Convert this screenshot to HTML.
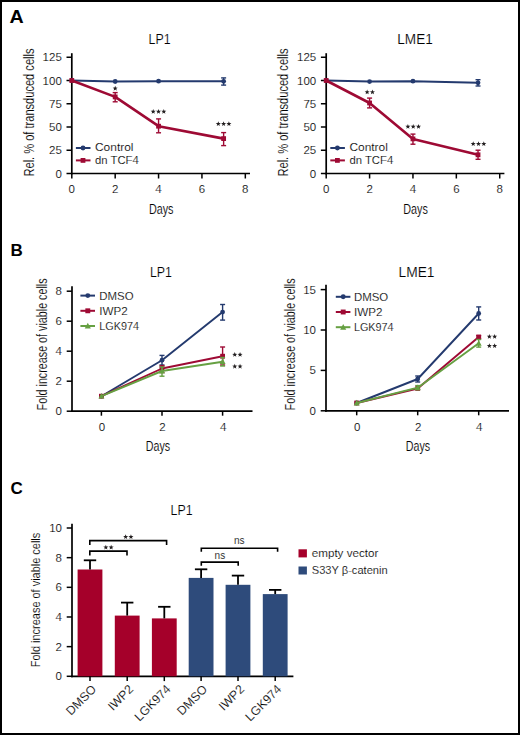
<!DOCTYPE html><html><head><meta charset="utf-8"><style>html,body{margin:0;padding:0;background:#fff;overflow:hidden}svg{display:block}text{font-family:"Liberation Sans",sans-serif;stroke:#fff;stroke-width:0.15px}</style></head><body>
<svg width="520" height="735" viewBox="0 0 520 735">
<rect x="0" y="0" width="520" height="735" fill="#fff"/>
<rect x="1" y="1" width="518" height="733" fill="none" stroke="#000" stroke-width="2"/>
<text x="9.40" y="22.60" font-size="17.5" textLength="14.20" lengthAdjust="spacingAndGlyphs" font-weight="bold" fill="#000" style="stroke:none">A</text>
<text x="10.60" y="256.00" font-size="17" font-weight="bold" fill="#000" style="stroke:none">B</text>
<text x="10.40" y="494.20" font-size="17" font-weight="bold" fill="#000" style="stroke:none">C</text>
<line x1="71.80" y1="53.20" x2="71.80" y2="174.35" stroke="#000" stroke-width="1.7" stroke-linecap="butt"/>
<line x1="70.95" y1="173.50" x2="250.00" y2="173.50" stroke="#000" stroke-width="1.7" stroke-linecap="butt"/>
<line x1="66.50" y1="173.50" x2="71.80" y2="173.50" stroke="#000" stroke-width="1.5" stroke-linecap="butt"/>
<text x="61.80" y="177.50" font-size="11.5" text-anchor="end">0</text>
<line x1="66.50" y1="150.25" x2="71.80" y2="150.25" stroke="#000" stroke-width="1.5" stroke-linecap="butt"/>
<text x="61.80" y="154.25" font-size="11.5" text-anchor="end">25</text>
<line x1="66.50" y1="127.00" x2="71.80" y2="127.00" stroke="#000" stroke-width="1.5" stroke-linecap="butt"/>
<text x="61.80" y="131.00" font-size="11.5" text-anchor="end">50</text>
<line x1="66.50" y1="103.75" x2="71.80" y2="103.75" stroke="#000" stroke-width="1.5" stroke-linecap="butt"/>
<text x="61.80" y="107.75" font-size="11.5" text-anchor="end">75</text>
<line x1="66.50" y1="80.50" x2="71.80" y2="80.50" stroke="#000" stroke-width="1.5" stroke-linecap="butt"/>
<text x="61.80" y="84.50" font-size="11.5" text-anchor="end">100</text>
<line x1="66.50" y1="57.25" x2="71.80" y2="57.25" stroke="#000" stroke-width="1.5" stroke-linecap="butt"/>
<text x="61.80" y="61.25" font-size="11.5" text-anchor="end">125</text>
<line x1="71.80" y1="173.50" x2="71.80" y2="178.50" stroke="#000" stroke-width="1.5" stroke-linecap="butt"/>
<text x="71.80" y="193.00" font-size="11.5" text-anchor="middle">0</text>
<line x1="115.18" y1="173.50" x2="115.18" y2="178.50" stroke="#000" stroke-width="1.5" stroke-linecap="butt"/>
<text x="115.18" y="193.00" font-size="11.5" text-anchor="middle">2</text>
<line x1="158.56" y1="173.50" x2="158.56" y2="178.50" stroke="#000" stroke-width="1.5" stroke-linecap="butt"/>
<text x="158.56" y="193.00" font-size="11.5" text-anchor="middle">4</text>
<line x1="201.94" y1="173.50" x2="201.94" y2="178.50" stroke="#000" stroke-width="1.5" stroke-linecap="butt"/>
<text x="201.94" y="193.00" font-size="11.5" text-anchor="middle">6</text>
<line x1="245.32" y1="173.50" x2="245.32" y2="178.50" stroke="#000" stroke-width="1.5" stroke-linecap="butt"/>
<text x="245.32" y="193.00" font-size="11.5" text-anchor="middle">8</text>
<text x="161.20" y="213.60" font-size="15.5" text-anchor="middle" textLength="24.60" lengthAdjust="spacingAndGlyphs">Days</text>
<text x="148.60" y="44.20" font-size="15" textLength="22.00" lengthAdjust="spacingAndGlyphs">LP1</text>
<text x="0" y="0" font-size="14" text-anchor="middle" textLength="128.00" lengthAdjust="spacingAndGlyphs" transform="translate(33.70,112.50) rotate(-90)">Rel. % of transduced cells</text>
<line x1="75.90" y1="148.00" x2="90.50" y2="148.00" stroke="#243a6e" stroke-width="2.0" stroke-linecap="butt"/>
<circle cx="83.00" cy="148.00" r="2.45" fill="#243a6e"/>
<line x1="75.90" y1="160.40" x2="90.50" y2="160.40" stroke="#9e0a34" stroke-width="2.0" stroke-linecap="butt"/>
<rect x="80.60" y="158.00" width="4.80" height="4.80" fill="#9e0a34"/>
<text x="95.00" y="151.10" font-size="11" textLength="38.50" lengthAdjust="spacingAndGlyphs">Control</text>
<text x="95.00" y="163.60" font-size="11" textLength="43.80" lengthAdjust="spacingAndGlyphs">dn TCF4</text>
<polyline points="71.80,80.50 115.18,81.50 158.56,81.20 223.63,81.30" fill="none" stroke="#243a6e" stroke-width="2.0" stroke-linejoin="round"/>
<circle cx="71.80" cy="80.50" r="2.40" fill="#243a6e"/>
<circle cx="115.18" cy="81.50" r="2.40" fill="#243a6e"/>
<circle cx="158.56" cy="81.20" r="2.40" fill="#243a6e"/>
<line x1="223.63" y1="77.90" x2="223.63" y2="85.10" stroke="#243a6e" stroke-width="1.4" stroke-linecap="butt"/>
<line x1="221.13" y1="77.90" x2="226.13" y2="77.90" stroke="#243a6e" stroke-width="1.4" stroke-linecap="butt"/>
<line x1="221.13" y1="85.10" x2="226.13" y2="85.10" stroke="#243a6e" stroke-width="1.4" stroke-linecap="butt"/>
<circle cx="223.63" cy="81.30" r="2.40" fill="#243a6e"/>
<polyline points="71.80,80.50 115.18,96.90 158.56,126.20 223.63,138.60" fill="none" stroke="#9e0a34" stroke-width="2.6" stroke-linejoin="round"/>
<rect x="69.40" y="78.10" width="4.80" height="4.80" fill="#9e0a34"/>
<line x1="115.18" y1="92.60" x2="115.18" y2="101.80" stroke="#9e0a34" stroke-width="1.4" stroke-linecap="butt"/>
<line x1="112.68" y1="92.60" x2="117.68" y2="92.60" stroke="#9e0a34" stroke-width="1.4" stroke-linecap="butt"/>
<line x1="112.68" y1="101.80" x2="117.68" y2="101.80" stroke="#9e0a34" stroke-width="1.4" stroke-linecap="butt"/>
<rect x="112.78" y="94.50" width="4.80" height="4.80" fill="#9e0a34"/>
<line x1="158.56" y1="118.90" x2="158.56" y2="132.80" stroke="#9e0a34" stroke-width="1.4" stroke-linecap="butt"/>
<line x1="156.06" y1="118.90" x2="161.06" y2="118.90" stroke="#9e0a34" stroke-width="1.4" stroke-linecap="butt"/>
<line x1="156.06" y1="132.80" x2="161.06" y2="132.80" stroke="#9e0a34" stroke-width="1.4" stroke-linecap="butt"/>
<rect x="156.16" y="123.80" width="4.80" height="4.80" fill="#9e0a34"/>
<line x1="223.63" y1="132.60" x2="223.63" y2="145.60" stroke="#9e0a34" stroke-width="1.4" stroke-linecap="butt"/>
<line x1="221.13" y1="132.60" x2="226.13" y2="132.60" stroke="#9e0a34" stroke-width="1.4" stroke-linecap="butt"/>
<line x1="221.13" y1="145.60" x2="226.13" y2="145.60" stroke="#9e0a34" stroke-width="1.4" stroke-linecap="butt"/>
<rect x="221.23" y="136.20" width="4.80" height="4.80" fill="#9e0a34"/>
<polygon points="115.20,85.85 115.85,87.60 117.72,87.68 116.26,88.84 116.76,90.64 115.20,89.61 113.64,90.64 114.14,88.84 112.68,87.68 114.55,87.60" fill="#231f20"/>
<polygon points="153.20,108.95 153.85,110.70 155.72,110.78 154.26,111.94 154.76,113.74 153.20,112.71 151.64,113.74 152.14,111.94 150.68,110.78 152.55,110.70" fill="#231f20"/>
<polygon points="158.50,108.95 159.15,110.70 161.02,110.78 159.56,111.94 160.06,113.74 158.50,112.71 156.94,113.74 157.44,111.94 155.98,110.78 157.85,110.70" fill="#231f20"/>
<polygon points="163.80,108.95 164.45,110.70 166.32,110.78 164.86,111.94 165.36,113.74 163.80,112.71 162.24,113.74 162.74,111.94 161.28,110.78 163.15,110.70" fill="#231f20"/>
<polygon points="218.30,121.15 218.95,122.90 220.82,122.98 219.36,124.14 219.86,125.94 218.30,124.91 216.74,125.94 217.24,124.14 215.78,122.98 217.65,122.90" fill="#231f20"/>
<polygon points="223.60,121.15 224.25,122.90 226.12,122.98 224.66,124.14 225.16,125.94 223.60,124.91 222.04,125.94 222.54,124.14 221.08,122.98 222.95,122.90" fill="#231f20"/>
<polygon points="228.90,121.15 229.55,122.90 231.42,122.98 229.96,124.14 230.46,125.94 228.90,124.91 227.34,125.94 227.84,124.14 226.38,122.98 228.25,122.90" fill="#231f20"/>
<line x1="326.20" y1="53.20" x2="326.20" y2="174.35" stroke="#000" stroke-width="1.7" stroke-linecap="butt"/>
<line x1="325.35" y1="173.50" x2="504.40" y2="173.50" stroke="#000" stroke-width="1.7" stroke-linecap="butt"/>
<line x1="320.90" y1="173.50" x2="326.20" y2="173.50" stroke="#000" stroke-width="1.5" stroke-linecap="butt"/>
<text x="316.20" y="177.50" font-size="11.5" text-anchor="end">0</text>
<line x1="320.90" y1="150.25" x2="326.20" y2="150.25" stroke="#000" stroke-width="1.5" stroke-linecap="butt"/>
<text x="316.20" y="154.25" font-size="11.5" text-anchor="end">25</text>
<line x1="320.90" y1="127.00" x2="326.20" y2="127.00" stroke="#000" stroke-width="1.5" stroke-linecap="butt"/>
<text x="316.20" y="131.00" font-size="11.5" text-anchor="end">50</text>
<line x1="320.90" y1="103.75" x2="326.20" y2="103.75" stroke="#000" stroke-width="1.5" stroke-linecap="butt"/>
<text x="316.20" y="107.75" font-size="11.5" text-anchor="end">75</text>
<line x1="320.90" y1="80.50" x2="326.20" y2="80.50" stroke="#000" stroke-width="1.5" stroke-linecap="butt"/>
<text x="316.20" y="84.50" font-size="11.5" text-anchor="end">100</text>
<line x1="320.90" y1="57.25" x2="326.20" y2="57.25" stroke="#000" stroke-width="1.5" stroke-linecap="butt"/>
<text x="316.20" y="61.25" font-size="11.5" text-anchor="end">125</text>
<line x1="326.20" y1="173.50" x2="326.20" y2="178.50" stroke="#000" stroke-width="1.5" stroke-linecap="butt"/>
<text x="326.20" y="193.00" font-size="11.5" text-anchor="middle">0</text>
<line x1="369.58" y1="173.50" x2="369.58" y2="178.50" stroke="#000" stroke-width="1.5" stroke-linecap="butt"/>
<text x="369.58" y="193.00" font-size="11.5" text-anchor="middle">2</text>
<line x1="412.96" y1="173.50" x2="412.96" y2="178.50" stroke="#000" stroke-width="1.5" stroke-linecap="butt"/>
<text x="412.96" y="193.00" font-size="11.5" text-anchor="middle">4</text>
<line x1="456.34" y1="173.50" x2="456.34" y2="178.50" stroke="#000" stroke-width="1.5" stroke-linecap="butt"/>
<text x="456.34" y="193.00" font-size="11.5" text-anchor="middle">6</text>
<line x1="499.72" y1="173.50" x2="499.72" y2="178.50" stroke="#000" stroke-width="1.5" stroke-linecap="butt"/>
<text x="499.72" y="193.00" font-size="11.5" text-anchor="middle">8</text>
<text x="415.60" y="213.60" font-size="15.5" text-anchor="middle" textLength="24.60" lengthAdjust="spacingAndGlyphs">Days</text>
<text x="397.30" y="44.20" font-size="15" textLength="35.50" lengthAdjust="spacingAndGlyphs">LME1</text>
<text x="0" y="0" font-size="14" text-anchor="middle" textLength="128.00" lengthAdjust="spacingAndGlyphs" transform="translate(288.10,112.50) rotate(-90)">Rel. % of transduced cells</text>
<line x1="330.30" y1="148.00" x2="344.90" y2="148.00" stroke="#243a6e" stroke-width="2.0" stroke-linecap="butt"/>
<circle cx="337.40" cy="148.00" r="2.45" fill="#243a6e"/>
<line x1="330.30" y1="160.40" x2="344.90" y2="160.40" stroke="#9e0a34" stroke-width="2.0" stroke-linecap="butt"/>
<rect x="335.00" y="158.00" width="4.80" height="4.80" fill="#9e0a34"/>
<text x="349.40" y="151.10" font-size="11" textLength="38.50" lengthAdjust="spacingAndGlyphs">Control</text>
<text x="349.40" y="163.60" font-size="11" textLength="43.80" lengthAdjust="spacingAndGlyphs">dn TCF4</text>
<polyline points="326.20,80.50 369.58,81.60 412.96,81.20 478.03,82.80" fill="none" stroke="#243a6e" stroke-width="2.0" stroke-linejoin="round"/>
<circle cx="326.20" cy="80.50" r="2.40" fill="#243a6e"/>
<circle cx="369.58" cy="81.60" r="2.40" fill="#243a6e"/>
<circle cx="412.96" cy="81.20" r="2.40" fill="#243a6e"/>
<line x1="478.03" y1="79.70" x2="478.03" y2="86.00" stroke="#243a6e" stroke-width="1.4" stroke-linecap="butt"/>
<line x1="475.53" y1="79.70" x2="480.53" y2="79.70" stroke="#243a6e" stroke-width="1.4" stroke-linecap="butt"/>
<line x1="475.53" y1="86.00" x2="480.53" y2="86.00" stroke="#243a6e" stroke-width="1.4" stroke-linecap="butt"/>
<circle cx="478.03" cy="82.80" r="2.40" fill="#243a6e"/>
<polyline points="326.20,80.50 369.58,103.00 412.96,138.90 478.03,154.80" fill="none" stroke="#9e0a34" stroke-width="2.6" stroke-linejoin="round"/>
<rect x="323.80" y="78.10" width="4.80" height="4.80" fill="#9e0a34"/>
<line x1="369.58" y1="98.10" x2="369.58" y2="107.90" stroke="#9e0a34" stroke-width="1.4" stroke-linecap="butt"/>
<line x1="367.08" y1="98.10" x2="372.08" y2="98.10" stroke="#9e0a34" stroke-width="1.4" stroke-linecap="butt"/>
<line x1="367.08" y1="107.90" x2="372.08" y2="107.90" stroke="#9e0a34" stroke-width="1.4" stroke-linecap="butt"/>
<rect x="367.18" y="100.60" width="4.80" height="4.80" fill="#9e0a34"/>
<line x1="412.96" y1="134.10" x2="412.96" y2="144.20" stroke="#9e0a34" stroke-width="1.4" stroke-linecap="butt"/>
<line x1="410.46" y1="134.10" x2="415.46" y2="134.10" stroke="#9e0a34" stroke-width="1.4" stroke-linecap="butt"/>
<line x1="410.46" y1="144.20" x2="415.46" y2="144.20" stroke="#9e0a34" stroke-width="1.4" stroke-linecap="butt"/>
<rect x="410.56" y="136.50" width="4.80" height="4.80" fill="#9e0a34"/>
<line x1="478.03" y1="150.20" x2="478.03" y2="159.30" stroke="#9e0a34" stroke-width="1.4" stroke-linecap="butt"/>
<line x1="475.53" y1="150.20" x2="480.53" y2="150.20" stroke="#9e0a34" stroke-width="1.4" stroke-linecap="butt"/>
<line x1="475.53" y1="159.30" x2="480.53" y2="159.30" stroke="#9e0a34" stroke-width="1.4" stroke-linecap="butt"/>
<rect x="475.63" y="152.40" width="4.80" height="4.80" fill="#9e0a34"/>
<polygon points="367.15,89.55 367.80,91.30 369.67,91.38 368.21,92.54 368.71,94.34 367.15,93.31 365.59,94.34 366.09,92.54 364.63,91.38 366.50,91.30" fill="#231f20"/>
<polygon points="372.45,89.55 373.10,91.30 374.97,91.38 373.51,92.54 374.01,94.34 372.45,93.31 370.89,94.34 371.39,92.54 369.93,91.38 371.80,91.30" fill="#231f20"/>
<polygon points="407.90,123.95 408.55,125.70 410.42,125.78 408.96,126.94 409.46,128.74 407.90,127.71 406.34,128.74 406.84,126.94 405.38,125.78 407.25,125.70" fill="#231f20"/>
<polygon points="413.20,123.95 413.85,125.70 415.72,125.78 414.26,126.94 414.76,128.74 413.20,127.71 411.64,128.74 412.14,126.94 410.68,125.78 412.55,125.70" fill="#231f20"/>
<polygon points="418.50,123.95 419.15,125.70 421.02,125.78 419.56,126.94 420.06,128.74 418.50,127.71 416.94,128.74 417.44,126.94 415.98,125.78 417.85,125.70" fill="#231f20"/>
<polygon points="473.20,141.15 473.85,142.90 475.72,142.98 474.26,144.14 474.76,145.94 473.20,144.91 471.64,145.94 472.14,144.14 470.68,142.98 472.55,142.90" fill="#231f20"/>
<polygon points="478.50,141.15 479.15,142.90 481.02,142.98 479.56,144.14 480.06,145.94 478.50,144.91 476.94,145.94 477.44,144.14 475.98,142.98 477.85,142.90" fill="#231f20"/>
<polygon points="483.80,141.15 484.45,142.90 486.32,142.98 484.86,144.14 485.36,145.94 483.80,144.91 482.24,145.94 482.74,144.14 481.28,142.98 483.15,142.90" fill="#231f20"/>
<line x1="72.00" y1="286.20" x2="72.00" y2="412.05" stroke="#000" stroke-width="1.7" stroke-linecap="butt"/>
<line x1="71.15" y1="411.20" x2="252.50" y2="411.20" stroke="#000" stroke-width="1.7" stroke-linecap="butt"/>
<line x1="66.70" y1="411.20" x2="72.00" y2="411.20" stroke="#000" stroke-width="1.5" stroke-linecap="butt"/>
<text x="62.00" y="415.20" font-size="11.5" text-anchor="end">0</text>
<line x1="66.70" y1="381.20" x2="72.00" y2="381.20" stroke="#000" stroke-width="1.5" stroke-linecap="butt"/>
<text x="62.00" y="385.20" font-size="11.5" text-anchor="end">2</text>
<line x1="66.70" y1="351.20" x2="72.00" y2="351.20" stroke="#000" stroke-width="1.5" stroke-linecap="butt"/>
<text x="62.00" y="355.20" font-size="11.5" text-anchor="end">4</text>
<line x1="66.70" y1="321.20" x2="72.00" y2="321.20" stroke="#000" stroke-width="1.5" stroke-linecap="butt"/>
<text x="62.00" y="325.20" font-size="11.5" text-anchor="end">6</text>
<line x1="66.70" y1="291.20" x2="72.00" y2="291.20" stroke="#000" stroke-width="1.5" stroke-linecap="butt"/>
<text x="62.00" y="295.20" font-size="11.5" text-anchor="end">8</text>
<line x1="101.40" y1="411.20" x2="101.40" y2="415.70" stroke="#000" stroke-width="1.5" stroke-linecap="butt"/>
<text x="101.90" y="431.00" font-size="11.5" text-anchor="middle">0</text>
<line x1="162.00" y1="411.20" x2="162.00" y2="415.70" stroke="#000" stroke-width="1.5" stroke-linecap="butt"/>
<text x="162.50" y="431.00" font-size="11.5" text-anchor="middle">2</text>
<line x1="222.60" y1="411.20" x2="222.60" y2="415.70" stroke="#000" stroke-width="1.5" stroke-linecap="butt"/>
<text x="223.10" y="431.00" font-size="11.5" text-anchor="middle">4</text>
<text x="158.00" y="450.90" font-size="15.5" text-anchor="middle" textLength="24.40" lengthAdjust="spacingAndGlyphs">Days</text>
<text x="150.00" y="277.10" font-size="15" textLength="22.00" lengthAdjust="spacingAndGlyphs">LP1</text>
<text x="0" y="0" font-size="14" text-anchor="middle" textLength="132.00" lengthAdjust="spacingAndGlyphs" transform="translate(46.70,344.40) rotate(-90)">Fold increase of viable cells</text>
<line x1="80.40" y1="295.60" x2="95.00" y2="295.60" stroke="#243a6e" stroke-width="2.0" stroke-linecap="butt"/>
<circle cx="87.80" cy="295.60" r="2.45" fill="#243a6e"/>
<text x="99.30" y="299.60" font-size="11.5" textLength="34.30" lengthAdjust="spacingAndGlyphs">DMSO</text>
<line x1="80.40" y1="310.80" x2="95.00" y2="310.80" stroke="#9e0a34" stroke-width="2.0" stroke-linecap="butt"/>
<rect x="85.35" y="308.35" width="4.90" height="4.90" fill="#9e0a34"/>
<text x="99.30" y="314.80" font-size="11.5" textLength="28.50" lengthAdjust="spacingAndGlyphs">IWP2</text>
<line x1="80.40" y1="326.00" x2="95.00" y2="326.00" stroke="#66a042" stroke-width="2.0" stroke-linecap="butt"/>
<polygon points="87.80,322.77 90.84,328.43 84.76,328.43" fill="#66a042"/>
<text x="99.30" y="330.00" font-size="11.5" textLength="39.60" lengthAdjust="spacingAndGlyphs">LGK974</text>
<polyline points="101.40,396.20 162.00,360.20 222.60,312.10" fill="none" stroke="#243a6e" stroke-width="1.9" stroke-linejoin="round"/>
<circle cx="101.40" cy="396.20" r="2.40" fill="#243a6e"/>
<line x1="162.00" y1="355.40" x2="162.00" y2="365.00" stroke="#243a6e" stroke-width="1.4" stroke-linecap="butt"/>
<line x1="159.50" y1="355.40" x2="164.50" y2="355.40" stroke="#243a6e" stroke-width="1.4" stroke-linecap="butt"/>
<line x1="159.50" y1="365.00" x2="164.50" y2="365.00" stroke="#243a6e" stroke-width="1.4" stroke-linecap="butt"/>
<circle cx="162.00" cy="360.20" r="2.40" fill="#243a6e"/>
<line x1="222.60" y1="304.50" x2="222.60" y2="320.10" stroke="#243a6e" stroke-width="1.4" stroke-linecap="butt"/>
<line x1="220.10" y1="304.50" x2="225.10" y2="304.50" stroke="#243a6e" stroke-width="1.4" stroke-linecap="butt"/>
<line x1="220.10" y1="320.10" x2="225.10" y2="320.10" stroke="#243a6e" stroke-width="1.4" stroke-linecap="butt"/>
<circle cx="222.60" cy="312.10" r="2.40" fill="#243a6e"/>
<polyline points="101.40,396.20 162.00,368.50 222.60,356.20" fill="none" stroke="#9e0a34" stroke-width="1.9" stroke-linejoin="round"/>
<rect x="99.00" y="393.80" width="4.80" height="4.80" fill="#9e0a34"/>
<line x1="162.00" y1="365.60" x2="162.00" y2="372.50" stroke="#9e0a34" stroke-width="1.4" stroke-linecap="butt"/>
<line x1="159.50" y1="365.60" x2="164.50" y2="365.60" stroke="#9e0a34" stroke-width="1.4" stroke-linecap="butt"/>
<line x1="159.50" y1="372.50" x2="164.50" y2="372.50" stroke="#9e0a34" stroke-width="1.4" stroke-linecap="butt"/>
<rect x="159.60" y="366.10" width="4.80" height="4.80" fill="#9e0a34"/>
<line x1="222.60" y1="347.00" x2="222.60" y2="365.00" stroke="#9e0a34" stroke-width="1.4" stroke-linecap="butt"/>
<line x1="220.10" y1="347.00" x2="225.10" y2="347.00" stroke="#9e0a34" stroke-width="1.4" stroke-linecap="butt"/>
<line x1="220.10" y1="365.00" x2="225.10" y2="365.00" stroke="#9e0a34" stroke-width="1.4" stroke-linecap="butt"/>
<rect x="220.20" y="353.80" width="4.80" height="4.80" fill="#9e0a34"/>
<polyline points="101.40,396.20 162.00,371.00 222.60,361.70" fill="none" stroke="#66a042" stroke-width="1.9" stroke-linejoin="round"/>
<polygon points="101.40,393.03 104.38,398.58 98.42,398.58" fill="#66a042"/>
<line x1="162.00" y1="367.00" x2="162.00" y2="376.20" stroke="#66a042" stroke-width="1.4" stroke-linecap="butt"/>
<line x1="159.50" y1="367.00" x2="164.50" y2="367.00" stroke="#66a042" stroke-width="1.4" stroke-linecap="butt"/>
<line x1="159.50" y1="376.20" x2="164.50" y2="376.20" stroke="#66a042" stroke-width="1.4" stroke-linecap="butt"/>
<polygon points="162.00,367.83 164.98,373.38 159.02,373.38" fill="#66a042"/>
<line x1="222.60" y1="357.50" x2="222.60" y2="366.00" stroke="#66a042" stroke-width="1.4" stroke-linecap="butt"/>
<line x1="220.10" y1="357.50" x2="225.10" y2="357.50" stroke="#66a042" stroke-width="1.4" stroke-linecap="butt"/>
<line x1="220.10" y1="366.00" x2="225.10" y2="366.00" stroke="#66a042" stroke-width="1.4" stroke-linecap="butt"/>
<polygon points="222.60,358.53 225.58,364.08 219.62,364.08" fill="#66a042"/>
<polygon points="234.75,352.05 235.40,353.80 237.27,353.88 235.81,355.04 236.31,356.84 234.75,355.81 233.19,356.84 233.69,355.04 232.23,353.88 234.10,353.80" fill="#231f20"/>
<polygon points="240.05,352.05 240.70,353.80 242.57,353.88 241.11,355.04 241.61,356.84 240.05,355.81 238.49,356.84 238.99,355.04 237.53,353.88 239.40,353.80" fill="#231f20"/>
<polygon points="234.75,363.85 235.40,365.60 237.27,365.68 235.81,366.84 236.31,368.64 234.75,367.61 233.19,368.64 233.69,366.84 232.23,365.68 234.10,365.60" fill="#231f20"/>
<polygon points="240.05,363.85 240.70,365.60 242.57,365.68 241.11,366.84 241.61,368.64 240.05,367.61 238.49,368.64 238.99,366.84 237.53,365.68 239.40,365.60" fill="#231f20"/>
<line x1="326.00" y1="284.80" x2="326.00" y2="411.65" stroke="#000" stroke-width="1.7" stroke-linecap="butt"/>
<line x1="325.15" y1="410.80" x2="509.00" y2="410.80" stroke="#000" stroke-width="1.7" stroke-linecap="butt"/>
<line x1="320.70" y1="410.80" x2="326.00" y2="410.80" stroke="#000" stroke-width="1.5" stroke-linecap="butt"/>
<text x="316.00" y="414.80" font-size="11.5" text-anchor="end">0</text>
<line x1="320.70" y1="370.40" x2="326.00" y2="370.40" stroke="#000" stroke-width="1.5" stroke-linecap="butt"/>
<text x="316.00" y="374.40" font-size="11.5" text-anchor="end">5</text>
<line x1="320.70" y1="330.00" x2="326.00" y2="330.00" stroke="#000" stroke-width="1.5" stroke-linecap="butt"/>
<text x="316.00" y="334.00" font-size="11.5" text-anchor="end">10</text>
<line x1="320.70" y1="289.60" x2="326.00" y2="289.60" stroke="#000" stroke-width="1.5" stroke-linecap="butt"/>
<text x="316.00" y="293.60" font-size="11.5" text-anchor="end">15</text>
<line x1="356.70" y1="410.80" x2="356.70" y2="415.30" stroke="#000" stroke-width="1.5" stroke-linecap="butt"/>
<text x="357.20" y="431.00" font-size="11.5" text-anchor="middle">0</text>
<line x1="417.70" y1="410.80" x2="417.70" y2="415.30" stroke="#000" stroke-width="1.5" stroke-linecap="butt"/>
<text x="418.20" y="431.00" font-size="11.5" text-anchor="middle">2</text>
<line x1="478.70" y1="410.80" x2="478.70" y2="415.30" stroke="#000" stroke-width="1.5" stroke-linecap="butt"/>
<text x="479.20" y="431.00" font-size="11.5" text-anchor="middle">4</text>
<text x="418.00" y="450.90" font-size="15.5" text-anchor="middle" textLength="24.40" lengthAdjust="spacingAndGlyphs">Days</text>
<text x="398.50" y="277.10" font-size="15" textLength="36.00" lengthAdjust="spacingAndGlyphs">LME1</text>
<text x="0" y="0" font-size="14" text-anchor="middle" textLength="132.00" lengthAdjust="spacingAndGlyphs" transform="translate(295.30,344.40) rotate(-90)">Fold increase of viable cells</text>
<line x1="335.80" y1="296.80" x2="350.40" y2="296.80" stroke="#243a6e" stroke-width="2.0" stroke-linecap="butt"/>
<circle cx="343.20" cy="296.80" r="2.45" fill="#243a6e"/>
<text x="353.90" y="300.80" font-size="11.5" textLength="34.30" lengthAdjust="spacingAndGlyphs">DMSO</text>
<line x1="335.80" y1="312.00" x2="350.40" y2="312.00" stroke="#9e0a34" stroke-width="2.0" stroke-linecap="butt"/>
<rect x="340.75" y="309.55" width="4.90" height="4.90" fill="#9e0a34"/>
<text x="353.90" y="316.00" font-size="11.5" textLength="28.50" lengthAdjust="spacingAndGlyphs">IWP2</text>
<line x1="335.80" y1="327.20" x2="350.40" y2="327.20" stroke="#66a042" stroke-width="2.0" stroke-linecap="butt"/>
<polygon points="343.20,323.97 346.24,329.63 340.16,329.63" fill="#66a042"/>
<text x="353.90" y="331.20" font-size="11.5" textLength="39.60" lengthAdjust="spacingAndGlyphs">LGK974</text>
<polyline points="356.70,403.00 417.70,379.00 478.70,313.50" fill="none" stroke="#243a6e" stroke-width="1.9" stroke-linejoin="round"/>
<circle cx="356.70" cy="403.00" r="2.40" fill="#243a6e"/>
<line x1="417.70" y1="376.00" x2="417.70" y2="382.00" stroke="#243a6e" stroke-width="1.4" stroke-linecap="butt"/>
<line x1="415.20" y1="376.00" x2="420.20" y2="376.00" stroke="#243a6e" stroke-width="1.4" stroke-linecap="butt"/>
<line x1="415.20" y1="382.00" x2="420.20" y2="382.00" stroke="#243a6e" stroke-width="1.4" stroke-linecap="butt"/>
<circle cx="417.70" cy="379.00" r="2.40" fill="#243a6e"/>
<line x1="478.70" y1="306.90" x2="478.70" y2="320.00" stroke="#243a6e" stroke-width="1.4" stroke-linecap="butt"/>
<line x1="476.20" y1="306.90" x2="481.20" y2="306.90" stroke="#243a6e" stroke-width="1.4" stroke-linecap="butt"/>
<line x1="476.20" y1="320.00" x2="481.20" y2="320.00" stroke="#243a6e" stroke-width="1.4" stroke-linecap="butt"/>
<circle cx="478.70" cy="313.50" r="2.40" fill="#243a6e"/>
<polyline points="356.70,403.00 417.70,388.50 478.70,337.00" fill="none" stroke="#9e0a34" stroke-width="1.9" stroke-linejoin="round"/>
<rect x="354.30" y="400.60" width="4.80" height="4.80" fill="#9e0a34"/>
<rect x="415.30" y="386.10" width="4.80" height="4.80" fill="#9e0a34"/>
<line x1="478.70" y1="335.60" x2="478.70" y2="338.50" stroke="#9e0a34" stroke-width="1.4" stroke-linecap="butt"/>
<line x1="476.20" y1="335.60" x2="481.20" y2="335.60" stroke="#9e0a34" stroke-width="1.4" stroke-linecap="butt"/>
<line x1="476.20" y1="338.50" x2="481.20" y2="338.50" stroke="#9e0a34" stroke-width="1.4" stroke-linecap="butt"/>
<rect x="476.30" y="334.60" width="4.80" height="4.80" fill="#9e0a34"/>
<polyline points="356.70,403.00 417.70,387.70 478.70,343.30" fill="none" stroke="#66a042" stroke-width="1.9" stroke-linejoin="round"/>
<polygon points="356.70,399.83 359.68,405.38 353.72,405.38" fill="#66a042"/>
<line x1="417.70" y1="385.60" x2="417.70" y2="389.80" stroke="#66a042" stroke-width="1.4" stroke-linecap="butt"/>
<line x1="415.20" y1="385.60" x2="420.20" y2="385.60" stroke="#66a042" stroke-width="1.4" stroke-linecap="butt"/>
<line x1="415.20" y1="389.80" x2="420.20" y2="389.80" stroke="#66a042" stroke-width="1.4" stroke-linecap="butt"/>
<polygon points="417.70,384.53 420.68,390.08 414.72,390.08" fill="#66a042"/>
<line x1="478.70" y1="339.50" x2="478.70" y2="347.10" stroke="#66a042" stroke-width="1.4" stroke-linecap="butt"/>
<line x1="476.20" y1="339.50" x2="481.20" y2="339.50" stroke="#66a042" stroke-width="1.4" stroke-linecap="butt"/>
<line x1="476.20" y1="347.10" x2="481.20" y2="347.10" stroke="#66a042" stroke-width="1.4" stroke-linecap="butt"/>
<polygon points="478.70,340.13 481.68,345.68 475.72,345.68" fill="#66a042"/>
<polygon points="489.35,333.95 490.00,335.70 491.87,335.78 490.41,336.94 490.91,338.74 489.35,337.71 487.79,338.74 488.29,336.94 486.83,335.78 488.70,335.70" fill="#231f20"/>
<polygon points="494.65,333.95 495.30,335.70 497.17,335.78 495.71,336.94 496.21,338.74 494.65,337.71 493.09,338.74 493.59,336.94 492.13,335.78 494.00,335.70" fill="#231f20"/>
<polygon points="489.35,343.15 490.00,344.90 491.87,344.98 490.41,346.14 490.91,347.94 489.35,346.91 487.79,347.94 488.29,346.14 486.83,344.98 488.70,344.90" fill="#231f20"/>
<polygon points="494.65,343.15 495.30,344.90 497.17,344.98 495.71,346.14 496.21,347.94 494.65,346.91 493.09,347.94 493.59,346.14 492.13,344.98 494.00,344.90" fill="#231f20"/>
<line x1="72.00" y1="523.80" x2="72.00" y2="677.15" stroke="#000" stroke-width="1.7" stroke-linecap="butt"/>
<line x1="71.15" y1="676.30" x2="293.40" y2="676.30" stroke="#000" stroke-width="1.7" stroke-linecap="butt"/>
<line x1="66.70" y1="676.30" x2="72.00" y2="676.30" stroke="#000" stroke-width="1.5" stroke-linecap="butt"/>
<text x="62.00" y="680.30" font-size="11.5" text-anchor="end">0</text>
<line x1="66.70" y1="646.64" x2="72.00" y2="646.64" stroke="#000" stroke-width="1.5" stroke-linecap="butt"/>
<text x="62.00" y="650.64" font-size="11.5" text-anchor="end">2</text>
<line x1="66.70" y1="616.98" x2="72.00" y2="616.98" stroke="#000" stroke-width="1.5" stroke-linecap="butt"/>
<text x="62.00" y="620.98" font-size="11.5" text-anchor="end">4</text>
<line x1="66.70" y1="587.32" x2="72.00" y2="587.32" stroke="#000" stroke-width="1.5" stroke-linecap="butt"/>
<text x="62.00" y="591.32" font-size="11.5" text-anchor="end">6</text>
<line x1="66.70" y1="557.66" x2="72.00" y2="557.66" stroke="#000" stroke-width="1.5" stroke-linecap="butt"/>
<text x="62.00" y="561.66" font-size="11.5" text-anchor="end">8</text>
<line x1="66.70" y1="528.00" x2="72.00" y2="528.00" stroke="#000" stroke-width="1.5" stroke-linecap="butt"/>
<text x="62.00" y="532.00" font-size="11.5" text-anchor="end">10</text>
<text x="0" y="0" font-size="13.5" text-anchor="middle" textLength="134.50" lengthAdjust="spacingAndGlyphs" transform="translate(40.10,600.00) rotate(-90)">Fold increase of viable cells</text>
<text x="170.60" y="515.20" font-size="15" textLength="22.00" lengthAdjust="spacingAndGlyphs">LP1</text>
<rect x="77.60" y="569.50" width="24.80" height="106.80" fill="#a5002a"/>
<rect x="114.80" y="615.60" width="24.80" height="60.70" fill="#a5002a"/>
<rect x="151.90" y="618.40" width="24.80" height="57.90" fill="#a5002a"/>
<rect x="188.70" y="577.90" width="24.80" height="98.40" fill="#2e4b7b"/>
<rect x="225.60" y="584.80" width="24.80" height="91.50" fill="#2e4b7b"/>
<rect x="262.80" y="594.10" width="24.80" height="82.20" fill="#2e4b7b"/>
<line x1="90.00" y1="569.50" x2="90.00" y2="560.30" stroke="#000" stroke-width="1.8" stroke-linecap="butt"/>
<line x1="83.80" y1="560.30" x2="96.20" y2="560.30" stroke="#000" stroke-width="1.8" stroke-linecap="butt"/>
<line x1="127.20" y1="615.60" x2="127.20" y2="602.60" stroke="#000" stroke-width="1.8" stroke-linecap="butt"/>
<line x1="121.00" y1="602.60" x2="133.40" y2="602.60" stroke="#000" stroke-width="1.8" stroke-linecap="butt"/>
<line x1="164.30" y1="618.40" x2="164.30" y2="606.80" stroke="#000" stroke-width="1.8" stroke-linecap="butt"/>
<line x1="158.10" y1="606.80" x2="170.50" y2="606.80" stroke="#000" stroke-width="1.8" stroke-linecap="butt"/>
<line x1="201.10" y1="577.90" x2="201.10" y2="569.30" stroke="#000" stroke-width="1.8" stroke-linecap="butt"/>
<line x1="194.90" y1="569.30" x2="207.30" y2="569.30" stroke="#000" stroke-width="1.8" stroke-linecap="butt"/>
<line x1="238.00" y1="584.80" x2="238.00" y2="575.60" stroke="#000" stroke-width="1.8" stroke-linecap="butt"/>
<line x1="231.80" y1="575.60" x2="244.20" y2="575.60" stroke="#000" stroke-width="1.8" stroke-linecap="butt"/>
<line x1="275.20" y1="594.10" x2="275.20" y2="589.90" stroke="#000" stroke-width="1.8" stroke-linecap="butt"/>
<line x1="269.00" y1="589.90" x2="281.40" y2="589.90" stroke="#000" stroke-width="1.8" stroke-linecap="butt"/>
<line x1="90.00" y1="676.30" x2="90.00" y2="681.10" stroke="#000" stroke-width="1.5" stroke-linecap="butt"/>
<text x="0" y="0" font-size="12.3" text-anchor="end" transform="translate(97.00,690.00) rotate(-45)">DMSO</text>
<line x1="127.20" y1="676.30" x2="127.20" y2="681.10" stroke="#000" stroke-width="1.5" stroke-linecap="butt"/>
<text x="0" y="0" font-size="12.3" text-anchor="end" transform="translate(134.20,690.00) rotate(-45)">IWP2</text>
<line x1="164.30" y1="676.30" x2="164.30" y2="681.10" stroke="#000" stroke-width="1.5" stroke-linecap="butt"/>
<text x="0" y="0" font-size="12.3" text-anchor="end" transform="translate(171.30,690.00) rotate(-45)">LGK974</text>
<line x1="201.10" y1="676.30" x2="201.10" y2="681.10" stroke="#000" stroke-width="1.5" stroke-linecap="butt"/>
<text x="0" y="0" font-size="12.3" text-anchor="end" transform="translate(208.10,690.00) rotate(-45)">DMSO</text>
<line x1="238.00" y1="676.30" x2="238.00" y2="681.10" stroke="#000" stroke-width="1.5" stroke-linecap="butt"/>
<text x="0" y="0" font-size="12.3" text-anchor="end" transform="translate(245.00,690.00) rotate(-45)">IWP2</text>
<line x1="275.20" y1="676.30" x2="275.20" y2="681.10" stroke="#000" stroke-width="1.5" stroke-linecap="butt"/>
<text x="0" y="0" font-size="12.3" text-anchor="end" transform="translate(282.20,690.00) rotate(-45)">LGK974</text>
<polyline points="89.80,555.60 89.80,551.10 127.00,551.10 127.00,555.60" fill="none" stroke="#000" stroke-width="1.6"/>
<polyline points="89.80,545.00 89.80,540.60 166.60,540.60 166.60,545.00" fill="none" stroke="#000" stroke-width="1.6"/>
<polyline points="201.30,565.80 201.30,562.10 238.20,562.10 238.20,565.80" fill="none" stroke="#000" stroke-width="1.6"/>
<polyline points="201.30,551.80 201.30,548.20 277.60,548.20 277.60,551.80" fill="none" stroke="#000" stroke-width="1.6"/>
<polygon points="105.85,544.75 106.50,546.50 108.37,546.58 106.91,547.74 107.41,549.54 105.85,548.51 104.29,549.54 104.79,547.74 103.33,546.58 105.20,546.50" fill="#231f20"/>
<polygon points="111.15,544.75 111.80,546.50 113.67,546.58 112.21,547.74 112.71,549.54 111.15,548.51 109.59,549.54 110.09,547.74 108.63,546.58 110.50,546.50" fill="#231f20"/>
<polygon points="125.65,534.15 126.30,535.90 128.17,535.98 126.71,537.14 127.21,538.94 125.65,537.91 124.09,538.94 124.59,537.14 123.13,535.98 125.00,535.90" fill="#231f20"/>
<polygon points="130.95,534.15 131.60,535.90 133.47,535.98 132.01,537.14 132.51,538.94 130.95,537.91 129.39,538.94 129.89,537.14 128.43,535.98 130.30,535.90" fill="#231f20"/>
<text x="219.90" y="558.60" font-size="11" text-anchor="middle" textLength="10.60" lengthAdjust="spacingAndGlyphs">ns</text>
<text x="239.30" y="544.20" font-size="11" text-anchor="middle" textLength="10.60" lengthAdjust="spacingAndGlyphs">ns</text>
<rect x="298.5" y="549.3" width="8.4" height="8.1" fill="#a5002a"/>
<rect x="298.5" y="566.5" width="8.4" height="8.0" fill="#2e4b7b"/>
<text x="311.80" y="556.70" font-size="11.5" textLength="66.50" lengthAdjust="spacingAndGlyphs">empty vector</text>
<text x="311.80" y="574.10" font-size="11.5" textLength="75.80" lengthAdjust="spacingAndGlyphs">S33Y β-catenin</text>
</svg></body></html>
